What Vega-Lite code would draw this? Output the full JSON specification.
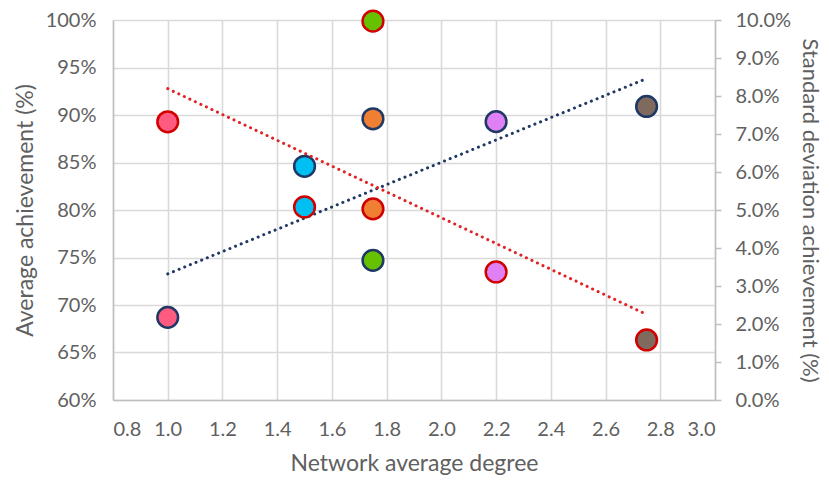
{
  "$schema": "https://vega.github.io/schema/vega-lite/v6.json",
  "width": 602,
  "height": 380,
  "autosize": "none",
  "padding": {"left": 113, "top": 20, "right": 114, "bottom": 81},
  "background": "white",
  "config": {
    "view": {"stroke": null},
    "axis": {
      "labelFont": "Lato", "titleFont": "Lato",
      "labelColor": "#606060", "titleColor": "#606060",
      "labelFontSize": 20, "titleFontSize": 23, "titleFontWeight": "normal",
      "gridColor": "#d9d9d9", "gridWidth": 1.6,
      "domainColor": "#bfbfbf", "domainWidth": 1.5, "tickColor": "#bfbfbf", "tickWidth": 1.5
    }
  },
  "data": {
    "values": [
      {"network": "N1", "degree": 1.0, "avg": 0.687, "sd": 0.0732},
      {"network": "N2", "degree": 1.5, "avg": 0.846, "sd": 0.0508},
      {"network": "N3", "degree": 1.75, "avg": 0.747, "sd": 0.0997},
      {"network": "N4", "degree": 1.75, "avg": 0.896, "sd": 0.0503},
      {"network": "N5", "degree": 2.2, "avg": 0.893, "sd": 0.0337},
      {"network": "N6", "degree": 2.75, "avg": 0.909, "sd": 0.0158}
    ]
  },
  "encoding": {
    "x": {
      "field": "degree", "type": "quantitative",
      "scale": {"domain": [0.8, 3.0], "nice": false, "zero": false},
      "axis": {
        "values": [0.8, 1.0, 1.2, 1.4, 1.6, 1.8, 2.0, 2.2, 2.4, 2.6, 2.8, 3.0],
        "format": ".1f", "grid": true, "ticks": false, "labelPadding": 19,
        "title": "Network average degree", "titlePadding": 13
      }
    }
  },
  "layer": [
    {
      "encoding": {
        "y": {
          "field": "avg", "type": "quantitative",
          "scale": {"domain": [0.6, 1.0], "nice": false, "zero": false},
          "axis": {
            "orient": "left",
            "values": [0.6, 0.65, 0.7, 0.75, 0.8, 0.85, 0.9, 0.95, 1.0],
            "format": ".0%", "grid": true, "ticks": false, "labelPadding": 17,
            "title": "Average achievement (%)", "titlePadding": 8
          }
        }
      },
      "layer": [
        {
          "transform": [{"regression": "avg", "on": "degree"}],
          "mark": {"type": "line", "color": "#1F3864", "strokeWidth": 3, "strokeDash": [0.1, 6], "strokeCap": "round"},
          "encoding": {}
        },
        {
          "mark": {"type": "point", "shape": "circle", "filled": true, "size": 430, "stroke": "#1F3864", "strokeWidth": 2.5, "opacity": 1},
          "encoding": {
            "fill": {
              "field": "network", "type": "nominal",
              "scale": {"domain": ["N1", "N2", "N3", "N4", "N5", "N6"], "range": ["#FF5B80", "#00BFF2", "#66C100", "#EE7F33", "#DF80F5", "#7F6A5E"]},
              "legend": null
            }
          }
        }
      ]
    },
    {
      "encoding": {
        "y": {
          "field": "sd", "type": "quantitative",
          "scale": {"domain": [0, 0.1], "nice": false, "zero": false},
          "axis": {
            "orient": "right",
            "values": [0, 0.01, 0.02, 0.03, 0.04, 0.05, 0.06, 0.07, 0.08, 0.09, 0.1],
            "format": ".1%", "grid": false, "ticks": true, "tickSize": 6, "labelPadding": 14,
            "title": "Standard deviation achievement (%)", "titleFontSize": 22, "titlePadding": 7
          }
        }
      },
      "layer": [
        {
          "transform": [{"regression": "sd", "on": "degree"}],
          "mark": {"type": "line", "color": "#E02424", "strokeWidth": 3, "strokeDash": [0.1, 6], "strokeCap": "round"},
          "encoding": {}
        },
        {
          "mark": {"type": "point", "shape": "circle", "filled": true, "size": 430, "stroke": "#D00000", "strokeWidth": 2.5, "opacity": 1},
          "encoding": {
            "fill": {
              "field": "network", "type": "nominal",
              "scale": {"domain": ["N1", "N2", "N3", "N4", "N5", "N6"], "range": ["#FF5B80", "#00BFF2", "#66C100", "#EE7F33", "#DF80F5", "#7F6A5E"]},
              "legend": null
            }
          }
        }
      ]
    }
  ],
  "resolve": {"scale": {"y": "independent"}}
}
